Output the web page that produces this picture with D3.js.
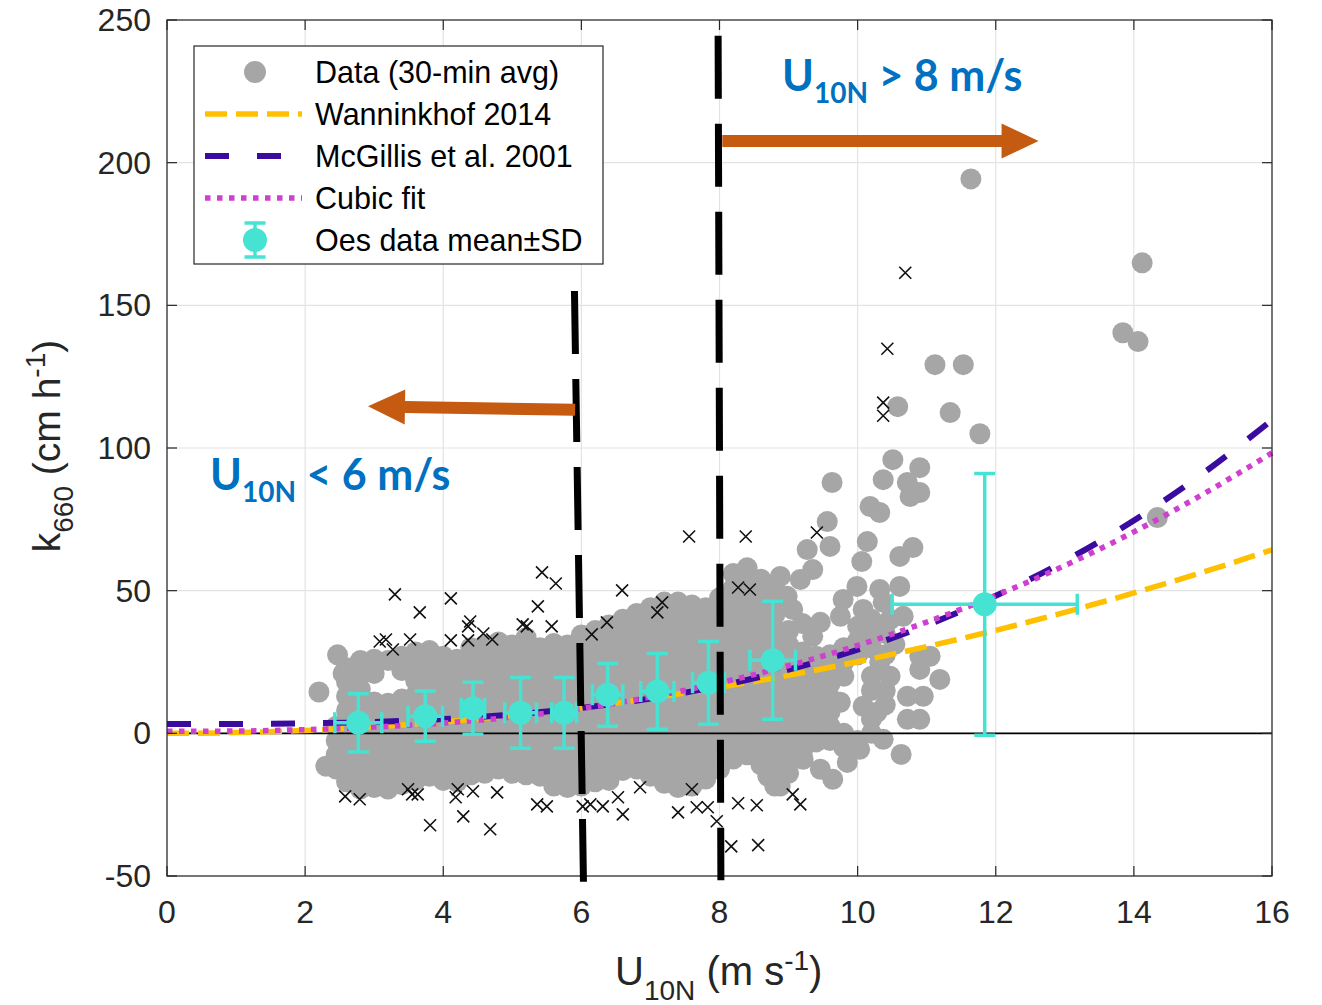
<!DOCTYPE html>
<html>
<head>
<meta charset="utf-8">
<style>
  body { margin: 0; background: #fff; }
  svg { display: block; font-family: "Liberation Sans", Arial, sans-serif; }
</style>
</head>
<body>
<svg width="1322" height="1005"></svg>
<script src="https://d3js.org/d3.v7.min.js"></script>
<script>

// ---- data ----
var xTicks = [0, 2, 4, 6, 8, 10, 12, 14, 16];
var yTicks = [-50, 0, 50, 100, 150, 200, 250];

// gray 30-min points, dense body: [U10N, [k660 values]]
var cloudCols = [
  [2.45, [-12.5, -7.5, -2.5, 2.5]],
  [2.6, [-17, -12, -7, -2, 3, 8, 13, 18, 23]],
  [2.8, [-19.5, -14.5, -9.5, -4.5, 0.5, 5.5, 10.5, 15.5, 20.5, 25.5]],
  [3.0, [-19, -14, -9, -4, 1, 6, 11, 21, 26]],
  [3.2, [-19.5, -14.5, -9.5, -4.5, 0.5, 5.5, 10.5, 25.5]],
  [3.4, [-18, -13, -8, -3, 2, 7, 12, 22, 27]],
  [3.6, [-16.5, -11.5, -6.5, -1.5, 3.5, 8.5, 13.5, 18.5, 23.5, 28.5]],
  [3.8, [-15, -10, -5, 0, 5, 10, 15, 20, 25, 29]],
  [4.0, [-16.5, -11.5, -6.5, -1.5, 3.5, 8.5, 13.5, 18.5, 23.5, 27]],
  [4.2, [-17, -12, -7, -2, 3, 8, 13, 18, 23, 26]],
  [4.4, [-14.5, -9.5, -4.5, 0.5, 5.5, 10.5, 15.5, 20.5, 25.5, 30]],
  [4.6, [-14, -9, -4, 1, 6, 11, 16, 21, 26, 31]],
  [4.8, [-12.5, -7.5, -2.5, 2.5, 7.5, 12.5, 17.5, 22.5, 27.5, 32]],
  [5.0, [-14, -9, -4, 1, 6, 11, 16, 21, 26, 31]],
  [5.2, [-14.5, -9.5, -4.5, 0.5, 5.5, 10.5, 15.5, 20.5, 25.5, 30.5, 33.5]],
  [5.4, [-15, -10, -5, 0, 5, 10, 15, 20, 25, 30]],
  [5.6, [-18.5, -13.5, -8.5, -3.5, 1.5, 6.5, 11.5, 16.5, 21.5, 26.5, 31.5]],
  [5.8, [-19, -14, -9, -4, 1, 6, 11, 16, 21, 26, 31]],
  [6.0, [-18.5, -13.5, -8.5, -3.5, 1.5, 6.5, 11.5, 16.5, 21.5, 26.5, 31.5, 34.5]],
  [6.2, [-17, -12, -7, -2, 3, 8, 13, 18, 23, 28, 33, 36]],
  [6.4, [-16.5, -11.5, -6.5, -1.5, 3.5, 8.5, 13.5, 18.5, 23.5, 28.5, 33.5, 38]],
  [6.6, [-13, -8, -3, 2, 7, 12, 17, 22, 27, 32, 37, 40]],
  [6.8, [-12.5, -7.5, -2.5, 2.5, 7.5, 12.5, 17.5, 22.5, 27.5, 32.5, 37.5, 42]],
  [7.0, [-15, -10, -5, 0, 5, 10, 15, 20, 25, 30, 35, 40, 44]],
  [7.2, [-17.5, -12.5, -7.5, -2.5, 2.5, 7.5, 12.5, 17.5, 22.5, 27.5, 32.5, 37.5, 42.5, 46]],
  [7.4, [-19, -14, -9, -4, 1, 6, 11, 16, 21, 26, 31, 36, 41, 46]],
  [7.6, [-18.5, -13.5, -8.5, -3.5, 1.5, 6.5, 11.5, 16.5, 21.5, 26.5, 31.5, 36.5, 41.5, 45]],
  [7.8, [-16, -11, -6, -1, 4, 9, 14, 19, 24, 29, 34, 39, 44]],
  [8.0, [-12.5, -7.5, -2.5, 2.5, 7.5, 12.5, 17.5, 22.5, 27.5, 32.5, 37.5, 42.5, 47.5]],
  [8.2, [-9, -4, 1, 6, 11, 16, 21, 26, 31, 36, 41, 46, 51, 56]],
  [8.4, [-7.5, -2.5, 2.5, 7.5, 12.5, 17.5, 22.5, 27.5, 32.5, 37.5, 42.5, 47.5, 52.5, 58]],
  [8.6, [-11, -6, -1, 4, 9, 14, 19, 24, 29, 34, 39, 44, 49, 54]],
  [8.8, [-18.5, -13.5, -8.5, -3.5, 1.5, 6.5, 11.5, 16.5, 21.5, 26.5, 31.5, 36.5, 41.5, 46.5, 51]],
  [9.0, [-14, -9, -4, 1, 6, 11, 16, 21, 26, 31, 36]],
  [9.2, [-6.5, -1.5, 3.5, 8.5, 13.5, 18.5, 23.5, 28.5, 38.5]],
  [9.4, [-3, 2, 7, 12, 17, 22, 27]],
  [9.6, [-2.5, 2.5, 7.5, 12.5, 17.5, 22.5, 27.5]],
  [9.8, [-5, 0, 20, 25, 30]],
  [10.0, [-2.5, 27.5, 32.5, 37.5]],
  [10.2, [0, 5, 15, 20, 30, 40]],
  [10.4, [10, 15, 27.5, 35]]
];

// gray points outside the dense body: [U10N, k660]
var cloudExtra = [
  [2.2, 14.5], [2.47, 27.5], [2.55, 21], [2.3, -11.5],
  [8.7, -15], [8.88, -18.5],
  [8.98, 48], [8.88, 55], [9.17, 53.9], [9.35, 57.4], [9.27, 64.4], [9.6, 65.5],
  [9.56, 74.2], [9.63, 87.9], [9.06, 43.4], [9.46, 38.9], [9.75, 41], [9.35, 34],
  [9.79, 46.9], [9.99, 51.5], [10.08, 43.4], [10.32, 50.4], [10.61, 51.5], [10.37, 45.9],
  [10.66, 41], [10.06, 60.2], [10.14, 67.2], [10.61, 62], [10.8, 65.1], [10.18, 79.5],
  [10.32, 77.4], [10.51, 95.9], [10.9, 93.1], [10.37, 88.9], [10.72, 87.9], [10.9, 84.4],
  [10.76, 83], [10.58, 114.5], [11.12, 129.2], [11.53, 129.2], [11.34, 112.4], [11.77, 105],
  [11.64, 194.3], [14.12, 164.9], [13.84, 140.4], [14.06, 137.3], [14.34, 75.6],
  [10.32, 24.9], [10.47, 20], [10.22, 36.4], [10.47, 39.9], [10.54, 31.2],
  [10.9, 27], [10.9, 22.4], [11.05, 27], [11.19, 18.9], [10.95, 13], [10.72, 13],
  [10.72, 4.9], [10.9, 4.9], [10.63, -7.4], [10.37, -2.1], [10.08, 9.5], [10.28, 7.4],
  [9.75, 10.9], [9.06, -5.6], [9.21, -9.1], [9.46, -12.6], [9.64, -16.1], [9.85, -10.2],
  [10.03, -5.6]
];

// excluded points (black x): [U10N, k660]
var crosses = [
  [10.69, 161.4], [10.43, 134.8], [10.37, 115.9], [10.37, 111.3], [9.41, 70.4], [7.56, 69],
  [8.38, 69], [8.27, 51.1], [8.44, 50.4], [5.43, 56.4], [5.63, 52.5], [5.37, 44.5],
  [5.15, 38.2], [5.21, 37.5], [5.57, 37.5], [6.15, 34.7], [3.3, 48.7], [4.11, 47.3],
  [3.66, 42.4], [4.39, 39.2], [4.36, 37.5], [4.58, 35], [3.08, 32.2], [3.17, 32.9],
  [3.52, 32.9], [4.11, 32.6], [4.36, 32.6], [3.27, 29.4], [4.71, 32.9], [6.59, 50.1],
  [7.17, 45.9], [7.1, 42.4], [6.37, 38.9],
  [2.58, -22.1], [2.79, -23.1], [3.49, -19.6], [3.55, -21.4], [3.63, -21.4], [4.21, -19.6],
  [4.18, -22.4], [4.43, -20.3], [4.78, -20.7], [4.29, -29.1], [3.81, -32.2], [4.68, -33.6],
  [5.36, -24.9], [5.5, -25.6], [6.02, -25.6], [6.13, -24.9], [6.31, -25.6], [6.85, -18.9],
  [6.53, -22.4], [6.6, -28.4], [7.6, -19.6], [7.4, -27.7], [7.67, -25.9], [7.83, -25.9],
  [7.96, -30.8], [8.27, -24.5], [8.54, -25.2], [9.06, -21.4], [9.17, -24.9], [8.17, -39.6],
  [8.56, -39.2]
];

// parameterisation curves, sampled at U = 0..16
var curveU = [0, 1, 2, 3, 4, 5, 6, 7, 8, 9, 10, 11, 12, 13, 14, 15, 16];
var wanninkhof = [0, 0.25, 1.0, 2.3, 4.0, 6.3, 9.0, 12.3, 16.1, 20.3, 25.1, 30.4, 36.1, 42.4, 49.2, 56.5, 64.3];
var mcgillis = [3.3, 3.3, 3.5, 4.0, 5.0, 6.6, 8.9, 12.2, 16.6, 22.3, 29.3, 37.9, 48.2, 60.4, 74.6, 91.1, 109.8];
var cubicFit = [0.7, 0.8, 1.3, 2.2, 3.6, 5.7, 8.7, 12.7, 17.7, 23.7, 30.8, 39.0, 48.3, 58.8, 70.6, 83.8, 98.3];

// Oes binned means +- SD
var oesU = [2.77, 3.74, 4.43, 5.12, 5.75, 6.38, 7.10, 7.84, 8.77, 11.84];
var oesK = [3.7, 6.0, 8.8, 7.2, 7.2, 13.5, 14.7, 17.7, 25.6, 45.2];
var oesSdU = [0.34, 0.25, 0.17, 0.23, 0.18, 0.22, 0.24, 0.23, 0.33, 1.34];
var oesSdK = [10.2, 8.8, 9.1, 12.4, 12.4, 11.0, 13.3, 14.5, 20.7, 45.9];

var legendLabels = ["Data (30-min avg)", "Wanninkhof 2014", "McGillis et al. 2001", "Cubic fit", "Oes data mean\u00b1SD"];

// ---- setup ----
var svg = d3.select("svg");
var x = d3.scaleLinear().domain([0, 16]).range([167, 1272]);
var y = d3.scaleLinear().domain([-50, 250]).range([876, 20]);

var axisColor = "#262626",
    grayDot = "#a6a6a6",
    yellow = "#ffc000",
    purple = "#3b0a9e",
    magenta = "#cf40d0",
    turq = "#46e3d3",
    orange = "#c55a11",
    blue = "#0070c0";

svg.append("rect").attr("width", 1322).attr("height", 1005).attr("fill", "#fff");

// grid
var grid = svg.append("g");
grid.selectAll(".gx").data(xTicks).enter().append("line")
    .attr("x1", function(d) { return x(d); }).attr("x2", function(d) { return x(d); })
    .attr("y1", y(-50)).attr("y2", y(250))
    .attr("stroke", "#e3e3e3").attr("stroke-width", 1.2);
grid.selectAll(".gy").data(yTicks).enter().append("line")
    .attr("y1", function(d) { return y(d); }).attr("y2", function(d) { return y(d); })
    .attr("x1", x(0)).attr("x2", x(16))
    .attr("stroke", "#e3e3e3").attr("stroke-width", 1.2);

// gray data points
var cloud = [];
cloudCols.forEach(function(c) {
  c[1].forEach(function(k) { cloud.push([c[0], k]); });
});
cloud = cloud.concat(cloudExtra);

svg.append("g").selectAll("circle").data(cloud).enter().append("circle")
    .attr("cx", function(d) { return x(d[0]); })
    .attr("cy", function(d) { return y(d[1]); })
    .attr("r", 10.5)
    .attr("fill", grayDot);

// crosses
svg.append("g").selectAll("path").data(crosses).enter().append("path")
    .attr("d", function(d) {
      var cx = x(d[0]), cy = y(d[1]), s = 6;
      return "M" + (cx - s) + "," + (cy - s) + "L" + (cx + s) + "," + (cy + s) +
             "M" + (cx - s) + "," + (cy + s) + "L" + (cx + s) + "," + (cy - s);
    })
    .attr("stroke", "#111").attr("stroke-width", 1.6).attr("fill", "none");

// zero line
svg.append("line")
    .attr("x1", x(0)).attr("x2", x(16)).attr("y1", y(0)).attr("y2", y(0))
    .attr("stroke", "#000").attr("stroke-width", 1.6);

// curves
var line = d3.line()
    .x(function(d) { return x(d[0]); })
    .y(function(d) { return y(d[1]); })
    .curve(d3.curveMonotoneX);

function drawCurve(vals, color, width, dash) {
  svg.append("path")
      .datum(curveU.map(function(u, i) { return [u, vals[i]]; }))
      .attr("d", line)
      .attr("fill", "none")
      .attr("stroke", color)
      .attr("stroke-width", width)
      .attr("stroke-dasharray", dash);
}
drawCurve(wanninkhof, yellow, 5.5, "22 9");
drawCurve(mcgillis, purple, 6, "24 28");
drawCurve(cubicFit, magenta, 5.5, "5.5 6.5");

// Oes error bars
var eb = svg.append("g").attr("stroke", turq).attr("stroke-width", 3.5).attr("fill", "none");
var cap = 10.5;
oesU.forEach(function(u, i) {
  var cx = x(u), cy = y(oesK[i]);
  var yt = y(oesK[i] + oesSdK[i]), yb = y(oesK[i] - oesSdK[i]);
  var xl = x(u - oesSdU[i]), xr = x(u + oesSdU[i]);
  eb.append("path").attr("d",
    "M" + cx + "," + yt + "V" + yb +
    "M" + (cx - cap) + "," + yt + "H" + (cx + cap) +
    "M" + (cx - cap) + "," + yb + "H" + (cx + cap) +
    "M" + xl + "," + cy + "H" + xr +
    "M" + xl + "," + (cy - cap) + "V" + (cy + cap) +
    "M" + xr + "," + (cy - cap) + "V" + (cy + cap));
});
svg.append("g").selectAll("circle").data(oesU).enter().append("circle")
    .attr("cx", function(d) { return x(d); })
    .attr("cy", function(d, i) { return y(oesK[i]); })
    .attr("r", 12)
    .attr("fill", turq);

// axes frame + ticks
var frame = svg.append("g").attr("stroke", axisColor).attr("stroke-width", 1.2);
frame.append("rect")
    .attr("x", x(0)).attr("y", y(250))
    .attr("width", x(16) - x(0)).attr("height", y(-50) - y(250))
    .attr("fill", "none");
var tl = 10;
xTicks.forEach(function(t) {
  frame.append("line").attr("x1", x(t)).attr("x2", x(t)).attr("y1", y(-50)).attr("y2", y(-50) - tl);
  frame.append("line").attr("x1", x(t)).attr("x2", x(t)).attr("y1", y(250)).attr("y2", y(250) + tl);
});
yTicks.forEach(function(t) {
  frame.append("line").attr("y1", y(t)).attr("y2", y(t)).attr("x1", x(0)).attr("x2", x(0) + tl);
  frame.append("line").attr("y1", y(t)).attr("y2", y(t)).attr("x1", x(16)).attr("x2", x(16) - tl);
});

// tick labels
svg.append("g").selectAll("text").data(xTicks).enter().append("text")
    .attr("x", function(d) { return x(d); })
    .attr("y", 923)
    .attr("text-anchor", "middle")
    .attr("font-size", 32)
    .attr("fill", axisColor)
    .text(function(d) { return d; });
svg.append("g").selectAll("text").data(yTicks).enter().append("text")
    .attr("x", 151)
    .attr("y", function(d) { return y(d) + 11; })
    .attr("text-anchor", "end")
    .attr("font-size", 32)
    .attr("fill", axisColor)
    .text(function(d) { return d; });

// axis titles
var xt = svg.append("text").attr("x", 615).attr("y", 985)
    .attr("font-size", 40).attr("fill", axisColor);
xt.append("tspan").text("U");
xt.append("tspan").attr("dy", 15).attr("font-size", 28).text("10N");
xt.append("tspan").attr("dy", -15).text(" (m s");
xt.append("tspan").attr("dy", -15).attr("font-size", 28).text("-1");
xt.append("tspan").attr("dy", 15).text(")");

var yt = svg.append("text")
    .attr("transform", "translate(60,446) rotate(-90)")
    .attr("text-anchor", "middle")
    .attr("font-size", 39).attr("fill", axisColor);
yt.append("tspan").text("k");
yt.append("tspan").attr("dy", 13).attr("font-size", 28).text("660");
yt.append("tspan").attr("dy", -13).text(" (cm h");
yt.append("tspan").attr("dy", -15).attr("font-size", 28).text("-1");
yt.append("tspan").attr("dy", 15).text(")");

// legend
var lg = svg.append("g");
lg.append("rect").attr("x", 194).attr("y", 46).attr("width", 409).attr("height", 218)
    .attr("fill", "#fff").attr("stroke", axisColor).attr("stroke-width", 1.2);
var rowY = function(i) { return 72 + i * 42; };
lg.selectAll("text").data(legendLabels).enter().append("text")
    .attr("x", 315)
    .attr("y", function(d, i) { return rowY(i) + 11; })
    .attr("font-size", 30.5)
    .attr("fill", "#000")
    .text(function(d) { return d; });
lg.append("circle").attr("cx", 255).attr("cy", rowY(0)).attr("r", 11).attr("fill", grayDot);
[[yellow, 5.5, "22 9"], [purple, 6, "24 28"], [magenta, 5.5, "5.5 6.5"]].forEach(function(s, j) {
  lg.append("line").attr("x1", 205).attr("x2", 302)
      .attr("y1", rowY(j + 1)).attr("y2", rowY(j + 1))
      .attr("stroke", s[0]).attr("stroke-width", s[1]).attr("stroke-dasharray", s[2]);
});
lg.append("path")
    .attr("d", "M255," + (rowY(4) - 17) + "V" + (rowY(4) + 17) +
               "M" + (255 - cap) + "," + (rowY(4) - 17) + "H" + (255 + cap) +
               "M" + (255 - cap) + "," + (rowY(4) + 17) + "H" + (255 + cap))
    .attr("stroke", turq).attr("stroke-width", 3.5).attr("fill", "none");
lg.append("circle").attr("cx", 255).attr("cy", rowY(4)).attr("r", 12).attr("fill", turq);

// ---- overlay annotations ----
// dashed thresholds at U = 6 and U = 8
var thresholds = [
  { u0: 5.9, k0: 155, u1: 6.03, k1: -52 },
  { u0: 7.98, k0: 244.5, u1: 8.02, k1: -51.5 }
];
svg.append("g").selectAll("line").data(thresholds).enter().append("line")
    .attr("x1", function(d) { return x(d.u0); }).attr("y1", function(d) { return y(d.k0); })
    .attr("x2", function(d) { return x(d.u1); }).attr("y2", function(d) { return y(d.k1); })
    .attr("stroke", "#000").attr("stroke-width", 7).attr("stroke-dasharray", "63 25");

// arrows
var arrows = [
  { u0: 8.04, k0: 207.6, u1: 12.62, k1: 207.6 },
  { u0: 5.91, k0: 113.4, u1: 2.91, k1: 114.6 }
];
function arrowPath(d) {
  var x0 = x(d.u0), y0 = y(d.k0), x1 = x(d.u1), y1 = y(d.k1);
  var dx = x1 - x0, dy = y1 - y0, len = Math.sqrt(dx * dx + dy * dy);
  var ux = dx / len, uy = dy / len, nx = -uy, ny = ux;
  var hw = 6, hh = 17.5, hl = 37;
  var bx = x1 - ux * hl, by = y1 - uy * hl;
  var pts = [
    [x0 + nx * hw, y0 + ny * hw], [bx + nx * hw, by + ny * hw], [bx + nx * hh, by + ny * hh],
    [x1, y1],
    [bx - nx * hh, by - ny * hh], [bx - nx * hw, by - ny * hw], [x0 - nx * hw, y0 - ny * hw]
  ];
  return "M" + pts.map(function(p) { return p[0] + "," + p[1]; }).join("L") + "Z";
}
svg.append("g").selectAll("path").data(arrows).enter().append("path")
    .attr("d", arrowPath).attr("fill", orange);

// regime labels
function regime(px, py, rest) {
  var t = svg.append("text").attr("x", px).attr("y", py)
      .attr("font-family", "Lato, 'Open Sans', sans-serif")
      .attr("font-weight", "bold").attr("font-size", 43).attr("fill", blue);
  t.append("tspan").text("U");
  t.append("tspan").attr("dy", 12).attr("font-size", 28).text("10N");
  t.append("tspan").attr("dy", -12).text(rest);
}
regime(782, 91, " > 8 m/s");
regime(210, 490, " < 6 m/s");

</script>
</body>
</html>
